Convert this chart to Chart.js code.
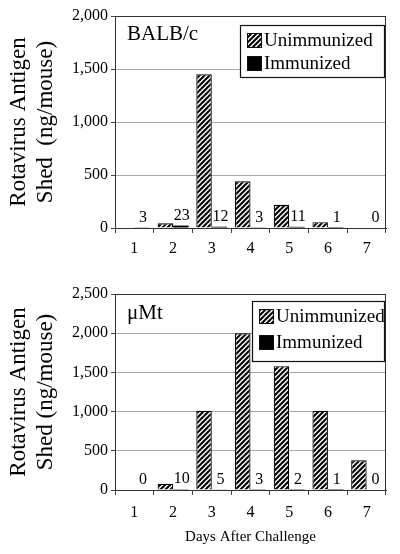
<!DOCTYPE html>
<html lang="en">
<head>
    <meta charset="UTF-8">
    <title>Rotavirus Antigen Shed</title>
    <script src="https://cdn.jsdelivr.net/npm/chart.js"></script>
    <style>
        body { margin: 0; background: #fff; }
        canvas { display: block; }
    </style>
</head>
<body>
    <canvas id="balb" width="400" height="270"></canvas>
    <canvas id="mumt" width="400" height="284"></canvas>

    <script>
        // Data
        const days = ['1', '2', '3', '4', '5', '6', '7'];
        const seriesNames = ['Unimmunized', 'Immunized'];

        const balbUnimmunized = [0, 45, 1450, 440, 220, 55, 0];
        const balbImmunized = [3, 23, 12, 3, 11, 1, 0];

        const mumtUnimmunized = [0, 80, 1010, 2000, 1580, 1010, 380];
        const mumtImmunized = [0, 10, 5, 3, 2, 1, 0];

        const serif = "'Liberation Serif', 'DejaVu Serif', serif";

        // Diagonal hatch fill for the unimmunized bars
        function makeHatch() {
            const n = 5;
            const c = document.createElement('canvas');
            c.width = n;
            c.height = n;
            const g = c.getContext('2d');
            g.fillStyle = '#fff';
            g.fillRect(0, 0, n, n);
            g.strokeStyle = '#000';
            g.lineWidth = 2.1;
            g.beginPath();
            g.moveTo(-1, n + 1); g.lineTo(n + 1, -1);
            g.moveTo(-1, 1); g.lineTo(1, -1);
            g.moveTo(n - 1, n + 1); g.lineTo(n + 1, n - 1);
            g.stroke();
            return g.createPattern(c, 'repeat');
        }
        const hatch = makeHatch();

        // Frame around the plot area
        const frame = {
            id: 'frame',
            afterDraw(chart) {
                const a = chart.chartArea;
                const ctx = chart.ctx;
                ctx.save();
                ctx.strokeStyle = '#333';
                ctx.lineWidth = 1;
                ctx.strokeRect(a.left + 0.5, a.top + 0.5, a.right - a.left - 1, a.bottom - a.top);
                ctx.restore();
            }
        };

        // Numbers over the immunized bars
        const valueLabels = {
            id: 'valueLabels',
            afterDatasetsDraw(chart) {
                const ctx = chart.ctx;
                const meta = chart.getDatasetMeta(1);
                const vals = chart.data.datasets[1].data;
                ctx.save();
                ctx.font = '16px ' + serif;
                ctx.fillStyle = '#000';
                ctx.textAlign = 'center';
                ctx.textBaseline = 'middle';
                meta.data.forEach((bar, i) => {
                    ctx.fillText(String(vals[i]), bar.x + 1, bar.y - 10);
                });
                ctx.restore();
            }
        };

        // Boxed legend in the top right corner, plus the strain name
        const boxLegend = {
            id: 'boxLegend',
            afterDraw(chart, args, opts) {
                const ctx = chart.ctx;
                const a = chart.chartArea;
                const x0 = a.right - opts.width - 2;
                const y0 = a.top + opts.top;
                ctx.save();
                ctx.fillStyle = '#fff';
                ctx.fillRect(x0, y0, opts.width, opts.height);
                ctx.strokeStyle = '#111';
                ctx.lineWidth = 1.2;
                ctx.strokeRect(x0 + 0.5, y0 + 0.5, opts.width, opts.height);
                ctx.font = '19px ' + serif;
                ctx.textBaseline = 'middle';
                chart.data.datasets.forEach((ds, i) => {
                    const cy = y0 + opts.firstRow + i * opts.rowGap;
                    ctx.fillStyle = ds.backgroundColor;
                    ctx.fillRect(x0 + 7, cy - 7, 15, 15);
                    ctx.strokeStyle = '#111';
                    ctx.lineWidth = 1;
                    ctx.strokeRect(x0 + 7.5, cy - 6.5, 14, 14);
                    ctx.fillStyle = '#000';
                    ctx.fillText(ds.label, x0 + 24, cy + 1);
                });
                ctx.font = '21px ' + serif;
                ctx.fillText(opts.strain, a.left + 12, a.top + opts.strainY);
                ctx.restore();
            }
        };

        function buildChart(id, unimm, imm, yMax, cfg) {
            const ctx = document.getElementById(id).getContext('2d');
            return new Chart(ctx, {
                type: 'bar',
                data: {
                    labels: days,
                    datasets: [
                        {
                            label: seriesNames[0],
                            data: unimm,
                            backgroundColor: hatch,
                            borderColor: '#000',
                            borderWidth: 1.2,
                            categoryPercentage: 0.8,
                            barPercentage: 1.0
                        },
                        {
                            label: seriesNames[1],
                            data: imm,
                            backgroundColor: '#000',
                            borderColor: '#000',
                            borderWidth: 0,
                            categoryPercentage: 0.8,
                            barPercentage: 1.0
                        }
                    ]
                },
                options: {
                    responsive: false,
                    animation: false,
                    layout: { padding: { top: cfg.top, right: 14, left: 0, bottom: 0 } },
                    plugins: {
                        legend: { display: false },
                        tooltip: { enabled: false },
                        boxLegend: cfg.legend
                    },
                    scales: {
                        x: {
                            afterFit: s => { s.height = cfg.xHeight; },
                            grid: {
                                offset: true,
                                drawOnChartArea: false,
                                tickLength: 5,
                                color: '#444'
                            },
                            border: { color: '#333' },
                            ticks: {
                                padding: cfg.xPad,
                                color: '#000',
                                font: { family: serif, size: 16 }
                            },
                            title: {
                                display: !!cfg.xTitle,
                                text: cfg.xTitle || '',
                                color: '#000',
                                font: { family: serif, size: 15 },
                                padding: { top: 0, bottom: 8 }
                            }
                        },
                        y: {
                            min: 0,
                            max: yMax,
                            afterFit: s => { s.width = 115; },
                            grid: {
                                color: ctx => (ctx.tick && ctx.tick.value > 0 && ctx.tick.value < yMax) ? '#a8a8a8' : 'rgba(0,0,0,0)',
                                tickColor: '#444',
                                tickLength: 4
                            },
                            border: { color: '#333' },
                            ticks: {
                                stepSize: 500,
                                padding: 3,
                                color: '#000',
                                font: { family: serif, size: 16 },
                                callback: v => v.toLocaleString('en-US')
                            },
                            title: {
                                display: true,
                                text: cfg.yTitle,
                                color: '#000',
                                font: { family: serif, size: 23 },
                                padding: { top: 5, bottom: 0 }
                            }
                        }
                    }
                },
                plugins: [frame, valueLabels, boxLegend]
            });
        }

        buildChart('balb', balbUnimmunized, balbImmunized, 2000, {
            top: 16,
            xHeight: 42,
            xPad: 6,
            yTitle: ['Rotavirus Antigen', 'Shed  (ng/mouse)'],
            legend: { strain: 'BALB/c', strainY: 18, width: 144, height: 52, top: 9, firstRow: 15, rowGap: 23 }
        });

        buildChart('mumt', mumtUnimmunized, mumtImmunized, 2500, {
            top: 24,
            xHeight: 64,
            xPad: 8,
            xTitle: 'Days After Challenge',
            yTitle: ['Rotavirus Antigen', 'Shed (ng/mouse)'],
            legend: { strain: '\u03bcMt', strainY: 19, width: 132, height: 60, top: 7, firstRow: 15, rowGap: 26 }
        });
    </script>
</body>
</html>
